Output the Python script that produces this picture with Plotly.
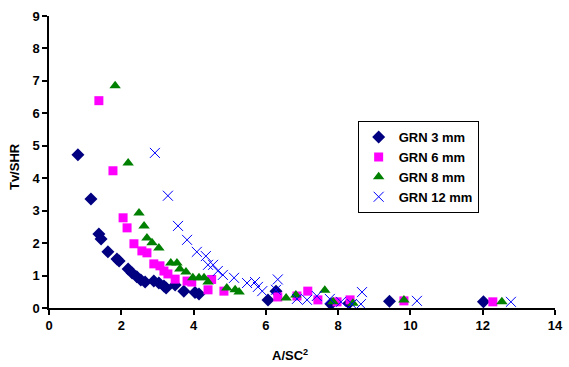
import plotly.graph_objects as go

# GRN 3 mm
x3 = [0.80, 1.16, 1.38, 1.44, 1.63, 1.88, 1.94, 2.19, 2.30, 2.43, 2.54, 2.66, 2.90, 3.04, 3.18, 3.24,
      3.49, 3.73, 4.04, 4.15, 6.06, 6.28, 7.80, 8.30, 9.42, 12.02]
y3 = [4.72, 3.36, 2.28, 2.13, 1.73, 1.51, 1.45, 1.20, 1.08, 0.96, 0.86, 0.80, 0.83, 0.77, 0.68, 0.62,
      0.71, 0.52, 0.48, 0.43, 0.25, 0.52, 0.12, 0.15, 0.21, 0.19]

# GRN 6 mm
x6 = [1.38, 1.77, 2.05, 2.16, 2.35, 2.57, 2.71, 2.90, 3.07, 3.18, 3.29, 3.49, 3.82, 3.95, 4.40, 4.50,
      4.84, 6.33, 6.86, 7.16, 7.44, 7.97, 8.33, 9.82, 12.28]
y6 = [6.39, 4.23, 2.78, 2.47, 1.98, 1.76, 1.70, 1.36, 1.30, 1.14, 1.05, 0.89, 0.83, 0.80, 0.56, 0.88,
      0.52, 0.34, 0.37, 0.52, 0.25, 0.19, 0.25, 0.22, 0.19]

# GRN 8 mm
x8 = [1.83, 2.19, 2.49, 2.63, 2.71, 2.85, 3.04, 3.37, 3.54, 3.62, 3.79, 3.98, 4.15, 4.29, 4.40, 4.92,
      5.15, 5.26, 6.56, 6.83, 7.63, 7.86, 8.41, 9.82, 12.53]
y8 = [6.85, 4.47, 2.93, 2.53, 2.16, 2.01, 1.85, 1.39, 1.39, 1.20, 1.11, 0.93, 0.93, 0.93, 0.80, 0.62,
      0.56, 0.49, 0.31, 0.40, 0.55, 0.19, 0.15, 0.25, 0.19]

# GRN 12 mm
x12 = [2.93, 3.29, 3.57, 3.82, 4.09, 4.34, 4.40, 4.54, 4.67, 4.81, 5.12, 5.48, 5.70, 5.78, 5.90, 6.33,
       6.28, 6.86, 7.14, 7.41, 7.77, 8.08, 8.38, 8.66, 8.63, 10.18, 12.78]
y12 = [4.78, 3.46, 2.53, 2.10, 1.73, 1.60, 1.33, 1.33, 1.14, 1.02, 0.93, 0.77, 0.80, 0.65, 0.52, 0.88,
       0.56, 0.28, 0.25, 0.37, 0.28, 0.19, 0.12, 0.49, 0.12, 0.22, 0.19]

x_ticks = [0, 2, 4, 6, 8, 10, 12, 14]
y_ticks = [0, 1, 2, 3, 4, 5, 6, 7, 8, 9]
x_title = "A/SC<sup>2</sup>"
y_title = "Tv/SHR"

series = [
    ("GRN 3 mm", x3, y3, dict(symbol="diamond", color="#000080", size=10)),
    ("GRN 6 mm", x6, y6, dict(symbol="square", color="#FF00FF", size=9)),
    ("GRN 8 mm", x8, y8, dict(symbol="triangle-up", color="#008000", size=10)),
    ("GRN 12 mm", x12, y12, dict(symbol="x-thin-open", color="#0000FF", size=10,
                                 line=dict(color="#0000FF", width=1))),
]

FONT = "Liberation Sans, Arial, sans-serif"

fig = go.Figure()
for name, xs, ys, mk in series:
    fig.add_trace(go.Scatter(x=xs, y=ys, mode="markers", name="<b>%s</b>" % name, marker=mk))

fig.update_layout(
    width=569, height=367,
    margin=dict(l=49, r=14, t=16, b=59, autoexpand=False),
    paper_bgcolor="white", plot_bgcolor="white",
    font=dict(family=FONT, color="black", size=12, weight="bold"),
    showlegend=True,
    legend=dict(
        x=0.61, y=0.64, xanchor="left", yanchor="top",
        bordercolor="black", borderwidth=1, bgcolor="white",
        font=dict(family=FONT, size=13, color="black", weight="bold"),
        itemwidth=30, tracegroupgap=0,
    ),
    annotations=[
        dict(text="<b>%s</b>" % x_title, xref="paper", yref="paper", x=0.476, y=-0.161,
             xanchor="center", yanchor="middle", showarrow=False,
             font=dict(family=FONT, size=13, color="black", weight="bold")),
        dict(text="<b>%s</b>" % y_title, xref="paper", yref="paper", x=-0.067, y=0.483,
             xanchor="center", yanchor="middle", showarrow=False, textangle=-90,
             font=dict(family=FONT, size=13, color="black", weight="bold")),
    ],
)
fig.update_xaxes(
    range=[0, 14], tickvals=x_ticks, ticktext=["<b>%d</b>" % v for v in x_ticks],
    showgrid=False, zeroline=False, automargin=False,
    showline=True, linecolor="black", linewidth=1.5,
    ticks="outside", ticklen=5, tickcolor="black", tickwidth=1.5,
    tickfont=dict(family=FONT, size=13, color="black", weight="bold"),
)
fig.update_yaxes(
    range=[0, 9], tickvals=y_ticks, ticktext=["<b>%d</b>" % v for v in y_ticks],
    showgrid=False, zeroline=False, automargin=False,
    showline=True, linecolor="black", linewidth=1.5,
    ticks="outside", ticklen=5, tickcolor="black", tickwidth=1.5,
    tickfont=dict(family=FONT, size=13, color="black", weight="bold"),
)

fig.write_html("out.html")
